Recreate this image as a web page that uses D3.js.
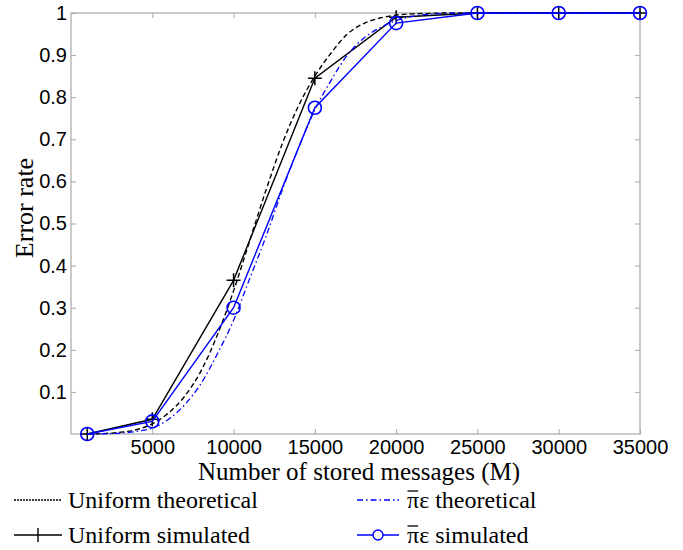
<!DOCTYPE html>
<html>
<head>
<meta charset="utf-8">
<script src="https://cdn.jsdelivr.net/npm/d3@7"></script>
<style>
  body { margin: 0; background: #fff; }
  svg { display: block; }
</style>
</head>
<body>
<svg width="683" height="550"></svg>
<script>
// simulated points
let simX = [1000, 5000, 10000, 15000, 20000, 25000, 30000, 35000];
let uniformSim = [0.0, 0.035, 0.365, 0.845, 0.99, 1, 1, 1];
let piSim = [0.0, 0.03, 0.30, 0.775, 0.976, 1, 1, 1];

// theoretical curves, read every 1000 messages
let theoX = [1000, 2000, 3000, 4000, 5000, 6000, 7000, 8000, 9000, 10000,
  11000, 12000, 13000, 14000, 15000, 16000, 17000, 18000, 19000, 20000,
  21000, 22000, 23000, 24000, 25000, 30000, 35000];
let uniformTheo = [0.0, 0.001, 0.004, 0.01, 0.024, 0.05, 0.09, 0.15, 0.235, 0.34,
  0.46, 0.58, 0.69, 0.78, 0.85, 0.905, 0.95, 0.975, 0.988, 0.995,
  0.998, 0.999, 1, 1, 1, 1, 1];
let piTheo = [0.0, 0.0005, 0.002, 0.006, 0.014, 0.035, 0.07, 0.12, 0.19, 0.27,
  0.37, 0.47, 0.58, 0.68, 0.77, 0.84, 0.90, 0.94, 0.965, 0.982,
  0.992, 0.997, 0.999, 1, 1, 1, 1];

let xTicks = [5000, 10000, 15000, 20000, 25000, 30000, 35000];
let yTicks = [0.1, 0.2, 0.3, 0.4, 0.5, 0.6, 0.7, 0.8, 0.9, 1];

let svg = d3.select("svg");
let margin = { left: 71, right: 43, top: 13, bottom: 116 };
let width = 683 - margin.left - margin.right,
  height = 550 - margin.top - margin.bottom;

let x = d3.scaleLinear().domain([0, 35000]).range([0, width]);
let y = d3.scaleLinear().domain([0, 1]).range([height, 0]);

let g = svg.append("g").attr("transform", `translate(${margin.left},${margin.top})`);

let axisColor = "#a8a8a8";
let tickFont = "'Liberation Sans', Arial, sans-serif";
let serif = "'Liberation Serif', 'Times New Roman', serif";

// box + ticks
let styleAxis = (sel, labels) => {
  sel.select(".domain").remove();
  sel.selectAll(".tick line").attr("stroke", axisColor);
  sel.selectAll(".tick text")
    .attr("font-family", tickFont)
    .attr("font-size", 20)
    .attr("fill", "#000");
  if (!labels) sel.selectAll(".tick text").remove();
};

g.append("g")
  .attr("transform", `translate(0,${height})`)
  .call(d3.axisBottom(x).tickValues(xTicks).tickSizeInner(-5).tickSizeOuter(0).tickPadding(6).tickFormat(d3.format("d")))
  .call(s => styleAxis(s, true));
g.append("g")
  .call(d3.axisTop(x).tickValues(xTicks).tickSizeInner(-5).tickSizeOuter(0))
  .call(s => styleAxis(s, false));
g.append("g")
  .call(d3.axisLeft(y).tickValues(yTicks).tickSizeInner(-5).tickSizeOuter(0).tickPadding(4).tickFormat(d => d === 1 ? "1" : d3.format(".1f")(d)))
  .call(s => styleAxis(s, true));
g.append("g")
  .attr("transform", `translate(${width},0)`)
  .call(d3.axisRight(y).tickValues(yTicks).tickSizeInner(-5).tickSizeOuter(0))
  .call(s => styleAxis(s, false));

g.append("rect")
  .attr("width", width).attr("height", height)
  .attr("fill", "none").attr("stroke", axisColor).attr("stroke-width", 1.2);

// axis titles
svg.append("text")
  .attr("x", 359).attr("y", 480)
  .attr("text-anchor", "middle")
  .attr("font-family", serif).attr("font-size", 25)
  .text("Number of stored messages (M)");
svg.append("text")
  .attr("transform", `translate(33,208) rotate(-90)`)
  .attr("text-anchor", "middle")
  .attr("font-family", serif).attr("font-size", 26)
  .text("Error rate");

let line = d3.line().x(d => x(d[0])).y(d => y(d[1]));
let curve = d3.line().x(d => x(d[0])).y(d => y(d[1])).curve(d3.curveMonotoneX);

let blue = "#0000ff";

// Uniform theoretical
g.append("path")
  .datum(d3.zip(theoX, uniformTheo))
  .attr("d", curve)
  .attr("fill", "none").attr("stroke", "#000").attr("stroke-width", 1.4)
  .attr("stroke-dasharray", "5,3");

// Uniform simulated
g.append("path")
  .datum(d3.zip(simX, uniformSim))
  .attr("d", line)
  .attr("fill", "none").attr("stroke", "#000").attr("stroke-width", 1.4);
g.append("g").selectAll("path")
  .data(d3.zip(simX, uniformSim))
  .enter().append("path")
  .attr("d", d => `M${x(d[0]) - 7},${y(d[1])}h14M${x(d[0])},${y(d[1]) - 7}v14`)
  .attr("stroke", "#000").attr("stroke-width", 1.5);

// pi-eps theoretical
g.append("path")
  .datum(d3.zip(theoX, piTheo))
  .attr("d", curve)
  .attr("fill", "none").attr("stroke", blue).attr("stroke-width", 1.3)
  .attr("stroke-dasharray", "6,3,1.5,3");

// pi-eps simulated
g.append("path")
  .datum(d3.zip(simX, piSim))
  .attr("d", line)
  .attr("fill", "none").attr("stroke", blue).attr("stroke-width", 1.4);
g.append("g").selectAll("circle")
  .data(d3.zip(simX, piSim))
  .enter().append("circle")
  .attr("cx", d => x(d[0])).attr("cy", d => y(d[1])).attr("r", 6.5)
  .attr("fill", "none").attr("stroke", blue).attr("stroke-width", 1.6);

// legend
let legendItems = [
  { name: "Uniform theoretical", pi: false, color: "#000", dash: "2,1", marker: null, col: 0, row: 0 },
  { name: " theoretical", pi: true, color: blue, dash: "6,3,1.5,3", marker: null, col: 1, row: 0 },
  { name: "Uniform simulated", pi: false, color: "#000", dash: null, marker: "plus", col: 0, row: 1 },
  { name: " simulated", pi: true, color: blue, dash: null, marker: "circle", col: 1, row: 1 }
];
let colX = [14, 357];
let rowY = [500, 535];

let leg = svg.append("g").selectAll("g")
  .data(legendItems)
  .enter().append("g")
  .attr("transform", d => `translate(${colX[d.col]},${rowY[d.row]})`);

leg.append("line")
  .attr("x1", 0).attr("x2", d => d.col === 0 ? 48 : 42)
  .attr("stroke", d => d.color).attr("stroke-width", 1.4)
  .attr("stroke-dasharray", d => d.dash);
leg.filter(d => d.marker === "plus").append("path")
  .attr("d", "M24,-7v14").attr("stroke", "#000").attr("stroke-width", 1.4);
leg.filter(d => d.marker === "circle").append("circle")
  .attr("cx", 21).attr("r", 5).attr("fill", "#fff").attr("stroke", blue).attr("stroke-width", 1.4);

let legText = leg.append("text")
  .attr("x", d => d.col === 0 ? 54 : 50)
  .attr("y", 8)
  .attr("font-family", serif).attr("font-size", 24);
legText.filter(d => d.pi).append("tspan").attr("class", "pi").text("π");
legText.filter(d => d.pi).append("tspan").text("ε");
legText.append("tspan").text(d => d.name);

// bar over pi, sized from the rendered glyph
leg.filter(d => d.pi).each(function () {
  let t = d3.select(this).select("tspan.pi").node();
  let w = t.getComputedTextLength();
  d3.select(this).append("line")
    .attr("x1", 50.5).attr("x2", 50 + w - 1)
    .attr("y1", -9).attr("y2", -9)
    .attr("stroke", "#000").attr("stroke-width", 1.3);
});
</script>
</body>
</html>
